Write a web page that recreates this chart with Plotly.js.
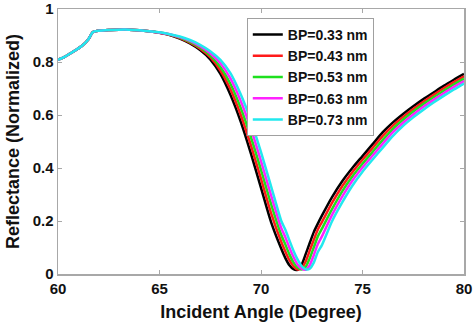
<!DOCTYPE html>
<html>
<head>
<meta charset="utf-8">
<script src="https://cdn.plot.ly/plotly-3.0.1.min.js"></script>
<style>html,body{margin:0;padding:0;background:#fff;}#chart{width:474px;height:329px;}</style>
</head>
<body>
<div id="chart"></div>
<script>
const angle = [60, 60.3, 60.6, 60.9, 61.2, 61.5, 61.72, 62, 62.5, 63, 63.5, 64, 64.5,
  65, 65.5, 66, 66.5, 67, 67.5, 68, 68.5, 69, 69.5, 70, 70.5, 71,
  71.2, 71.4, 71.6, 71.8, 72, 72.2, 72.4, 72.6, 72.8,
  73, 73.5, 74, 74.5, 75, 75.5, 76, 76.5, 77, 77.5, 78, 78.5, 79, 79.5, 80];

const bp033 = [0.808, 0.818, 0.832, 0.846, 0.862, 0.886, 0.913, 0.918, 0.921, 0.922, 0.922, 0.920, 0.916,
  0.910, 0.902, 0.888, 0.870, 0.845, 0.810, 0.755, 0.675, 0.575, 0.455, 0.325, 0.195, 0.095,
  0.060, 0.033, 0.018, 0.016, 0.035, 0.075, 0.117, 0.158, 0.190,
  0.220, 0.290, 0.350, 0.400, 0.445, 0.490, 0.535, 0.572, 0.604, 0.633, 0.660, 0.685, 0.710, 0.733, 0.755];

const bp043 = [0.808, 0.818, 0.832, 0.846, 0.862, 0.886, 0.913, 0.918, 0.921, 0.922, 0.922, 0.920, 0.916,
  0.910, 0.903, 0.890, 0.873, 0.850, 0.818, 0.768, 0.696, 0.601, 0.486, 0.359, 0.229, 0.121,
  0.085, 0.052, 0.029, 0.017, 0.022, 0.047, 0.088, 0.129, 0.168,
  0.196, 0.268, 0.331, 0.384, 0.431, 0.476, 0.521, 0.560, 0.593, 0.623, 0.650, 0.676, 0.701, 0.724, 0.746];

const bp053 = [0.808, 0.818, 0.832, 0.846, 0.862, 0.886, 0.913, 0.918, 0.921, 0.922, 0.922, 0.920, 0.916,
  0.911, 0.904, 0.892, 0.876, 0.855, 0.825, 0.781, 0.717, 0.627, 0.517, 0.393, 0.263, 0.147,
  0.111, 0.074, 0.044, 0.024, 0.017, 0.027, 0.059, 0.100, 0.142,
  0.171, 0.245, 0.312, 0.368, 0.416, 0.461, 0.506, 0.548, 0.582, 0.613, 0.641, 0.667, 0.691, 0.715, 0.737];

const bp063 = [0.808, 0.818, 0.832, 0.846, 0.862, 0.886, 0.913, 0.918, 0.921, 0.922, 0.922, 0.920, 0.916,
  0.911, 0.905, 0.894, 0.880, 0.860, 0.833, 0.795, 0.737, 0.653, 0.549, 0.426, 0.296, 0.173,
  0.139, 0.099, 0.064, 0.036, 0.020, 0.016, 0.033, 0.071, 0.113,
  0.142, 0.223, 0.292, 0.352, 0.402, 0.447, 0.492, 0.535, 0.571, 0.602, 0.631, 0.657, 0.682, 0.706, 0.728];

const bp073 = [0.808, 0.818, 0.832, 0.846, 0.862, 0.886, 0.913, 0.918, 0.921, 0.922, 0.922, 0.920, 0.916,
  0.912, 0.905, 0.896, 0.883, 0.865, 0.841, 0.808, 0.757, 0.678, 0.579, 0.460, 0.330, 0.200,
  0.167, 0.127, 0.088, 0.055, 0.030, 0.018, 0.020, 0.043, 0.083,
  0.109, 0.199, 0.270, 0.333, 0.386, 0.432, 0.477, 0.521, 0.559, 0.591, 0.620, 0.647, 0.672, 0.696, 0.719];

const seriesNames = ['BP=0.33 nm', 'BP=0.43 nm', 'BP=0.53 nm', 'BP=0.63 nm', 'BP=0.73 nm'];
const seriesValues = [bp033, bp043, bp053, bp063, bp073];
const seriesColors = ['#000000', '#ff1a1a', '#1ee01e', '#ff22ff', '#22e8ee'];

const xTickVals = [60, 65, 70, 75, 80];
const yTickVals = [0, 0.2, 0.4, 0.6, 0.8, 1];
const yTickText = ['0', '0.2', '0.4', '0.6', '0.8', '1'];

const FONT = 'Arial, "Liberation Sans", sans-serif';

const traces = seriesValues.map((vals, i) => ({
  x: angle,
  y: vals,
  type: 'scatter',
  mode: 'lines',
  name: seriesNames[i],
  line: {color: seriesColors[i], width: 2.5, shape: 'spline', smoothing: 0.6}
}));

const axisCommon = {
  showgrid: false,
  zeroline: false,
  showline: true,
  mirror: 'ticks',
  linecolor: '#a8a8a8',
  linewidth: 1.5,
  ticks: 'inside',
  ticklen: 4,
  tickcolor: '#a8a8a8',
  tickwidth: 1,
  tickfont: {family: FONT, size: 15, color: '#111', weight: 'bold'}
};

const layout = {
  width: 474,
  height: 329,
  margin: {l: 58, r: 10, t: 9, b: 55},
  paper_bgcolor: '#ffffff',
  plot_bgcolor: '#ffffff',
  showlegend: true,
  legend: {
    x: 0.465, y: 0.966, xanchor: 'left', yanchor: 'top',
    bordercolor: '#a0a0a0', borderwidth: 1, bgcolor: '#ffffff',
    font: {family: FONT, size: 14, color: '#111', weight: 'bold'},
    itemwidth: 30, tracegroupgap: 0
  },
  xaxis: Object.assign({}, axisCommon, {
    range: [60, 80],
    tickvals: xTickVals,
    title: {text: 'Incident Angle (Degree)', font: {family: FONT, size: 18, color: '#111', weight: 'bold'}, standoff: 10}
  }),
  yaxis: Object.assign({}, axisCommon, {
    range: [0, 1],
    tickvals: yTickVals,
    ticktext: yTickText,
    title: {text: 'Reflectance (Normalized)', font: {family: FONT, size: 18, color: '#111', weight: 'bold'}, standoff: 8}
  })
};

Plotly.newPlot('chart', traces, layout, {displayModeBar: false, staticPlot: true});
</script>
</body>
</html>
